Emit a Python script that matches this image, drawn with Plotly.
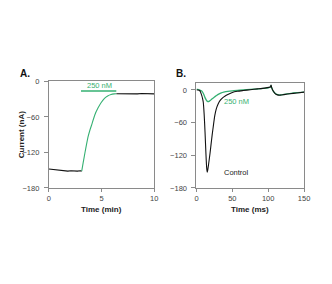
import plotly.graph_objects as go

W, H = 332, 284
GREEN = "#35b072"
BLACK = "#111111"
AXIS = "#8a8a8a"

# ---- Panel A data (time in min, current in nA)
a_pre_t = [0, 0.3, 0.6, 0.9, 1.2, 1.5, 1.8, 2.1, 2.4, 2.7, 3.0, 3.12]
a_pre_v = [-148, -148.5, -149.5, -150.5, -151, -151.5, -151.5, -151, -151.5, -151.5, -151, -151.5]
a_drug_t = [3.12, 3.25, 3.43, 3.58, 3.73, 3.9, 4.05, 4.35, 4.66, 4.97, 5.28, 5.58, 5.9, 6.2, 6.4]
a_drug_v = [-151.5, -138, -120, -106, -93, -82, -74, -57, -45, -35.5, -28.5, -24.5, -22, -21, -20.8]
a_post_t = [6.4, 6.8, 7.2, 7.6, 8.0, 8.4, 8.8, 9.2, 9.6, 10]
a_post_v = [-20.8, -21, -20.5, -21, -20.6, -20.9, -20.4, -20.8, -20.6, -20.9]
a_bar_t = [3.05, 6.4]
a_bar_v = [-16, -16]

# ---- Panel B data (time in ms, current in nA)
b_ctrl_t = [0, 2, 4, 5, 6, 7.3, 8.5, 9.5, 10.7, 11.9, 13.2, 14.2, 15, 15.8, 17, 18.7, 20.3, 21.9,
            23.7, 25.5, 27.5, 30, 33, 36.8, 40, 43.7, 50, 57, 65, 75, 85, 95, 101, 103, 104, 105,
            107, 110, 113, 117, 122, 130, 140, 150]
b_ctrl_v = [0, 0, -0.5, -2, -5, -10, -16, -23, -45, -77, -118, -143, -151, -146, -135, -118, -100, -82,
            -64, -47, -35, -26, -19, -14, -11, -8.3, -4.5, -2.4, -1, 0.5, 2, 3.5, 4.8, 5.5, 9, 4,
            -2, -7, -9, -9.5, -8.5, -7, -5.5, -4]
b_drug_t = [0, 2, 4, 6, 7.3, 9, 10.5, 11.9, 13.5, 15, 16.4, 18, 19.5, 21, 23, 25.5, 28, 31, 34.6,
            38, 43.7, 50, 60, 70, 80, 90, 100, 102.5, 104, 105, 107, 110, 113, 117, 122, 130, 140, 150]
b_drug_v = [1, 1, 0, -1, -2, -5, -9, -14, -18, -20.5, -21.5, -20.5, -19, -17, -15, -12.5, -10, -7.5, -5.3,
            -4, -2.5, -1.5, -0.5, 0.5, 1.5, 2.5, 4, 5, 8, 3.5, -2, -6.5, -8.5, -9, -8, -6.5, -5, -4]

a_xticks = [0, 5, 10]
b_xticks = [0, 50, 100, 150]
yticks = [0, -60, -120, -180]

fig = go.Figure()
lw = 1.1
sm = dict(shape="spline", smoothing=0.6)
fig.add_trace(go.Scatter(x=a_pre_t, y=a_pre_v, mode="lines", line=dict(color=BLACK, width=lw), xaxis="x", yaxis="y"))
fig.add_trace(go.Scatter(x=a_post_t, y=a_post_v, mode="lines", line=dict(color=BLACK, width=lw), xaxis="x", yaxis="y"))
fig.add_trace(go.Scatter(x=a_drug_t, y=a_drug_v, mode="lines", line=dict(color=GREEN, width=lw, **sm), xaxis="x", yaxis="y"))
fig.add_trace(go.Scatter(x=a_bar_t, y=a_bar_v, mode="lines", line=dict(color=GREEN, width=1.6), xaxis="x", yaxis="y"))

fig.add_trace(go.Scatter(x=b_drug_t, y=b_drug_v, mode="lines", line=dict(color=GREEN, width=1.3, **sm), xaxis="x2", yaxis="y2"))
fig.add_trace(go.Scatter(x=b_ctrl_t, y=b_ctrl_v, mode="lines", line=dict(color=BLACK, width=lw, **sm), xaxis="x2", yaxis="y2"))

tickfont = dict(family="Liberation Sans, Arial", size=7.5, color="#444")
common = dict(showline=True, linecolor=AXIS, linewidth=1, mirror=True, ticks="outside",
              tickcolor=AXIS, showgrid=False, zeroline=False, tickfont=tickfont,
              fixedrange=True)

def px(x):
    return x / W

def py(y):
    return 1 - y / H

fig.update_layout(
    width=W, height=H, margin=dict(l=0, r=0, t=0, b=0),
    paper_bgcolor="white", plot_bgcolor="white", showlegend=False,
    xaxis=dict(domain=[px(48), px(156)], range=[0, 10], tickvals=a_xticks, anchor="y",
               ticklen=3, ticklabelstandoff=0, **common),
    yaxis=dict(domain=[py(190), py(80)], range=[-180, 0], tickvals=yticks, anchor="x",
               ticklen=4, ticklabelstandoff=3, **common),
    xaxis2=dict(domain=[px(199.3), px(309.5)], range=[0, 150], tickvals=b_xticks, anchor="y2",
                ticklen=3, ticklabelstandoff=0, **common),
    yaxis2=dict(domain=[py(190), py(81.5)], range=[-180, 13], tickvals=yticks, anchor="x2",
                ticklen=4, ticklabelstandoff=3, **common),
)

bold = dict(family="Liberation Sans, Arial", size=8, color="#222")
ann = [
    dict(text="<b>A.</b>", x=px(16), y=py(72), xanchor="left", yanchor="middle",
         font=dict(family="Liberation Sans, Arial", size=10, color="#111")),
    dict(text="<b>B.</b>", x=px(176), y=py(72), xanchor="left", yanchor="middle",
         font=dict(family="Liberation Sans, Arial", size=10, color="#111")),
    dict(text="<b>Current (nA)</b>", x=px(20), y=py(135), textangle=-90, xanchor="center", yanchor="middle", font=bold),
    dict(text="<b>Time (min)</b>", x=px(102), y=py(205.5), xanchor="center", yanchor="top", font=bold),
    dict(text="<b>Time (ms)</b>", x=px(254), y=py(205.5), xanchor="center", yanchor="top", font=bold),
]
for a in ann:
    a.update(xref="paper", yref="paper", showarrow=False)
fig.update_layout(annotations=ann)
fig.add_annotation(text="250 nM", x=4.8, y=-6.5, xref="x", yref="y", showarrow=False,
                   font=dict(family="Liberation Sans, Arial", size=7.5, color=GREEN))
fig.add_annotation(text="250 nM", x=55.5, y=-21.4, xref="x2", yref="y2", showarrow=False,
                   font=dict(family="Liberation Sans, Arial", size=7.5, color=GREEN))
fig.add_annotation(text="Control", x=55.5, y=-151.5, xref="x2", yref="y2", showarrow=False,
                   font=dict(family="Liberation Sans, Arial", size=7.5, color="#222"))

fig.write_html("out.html", config=dict(displayModeBar=False))
